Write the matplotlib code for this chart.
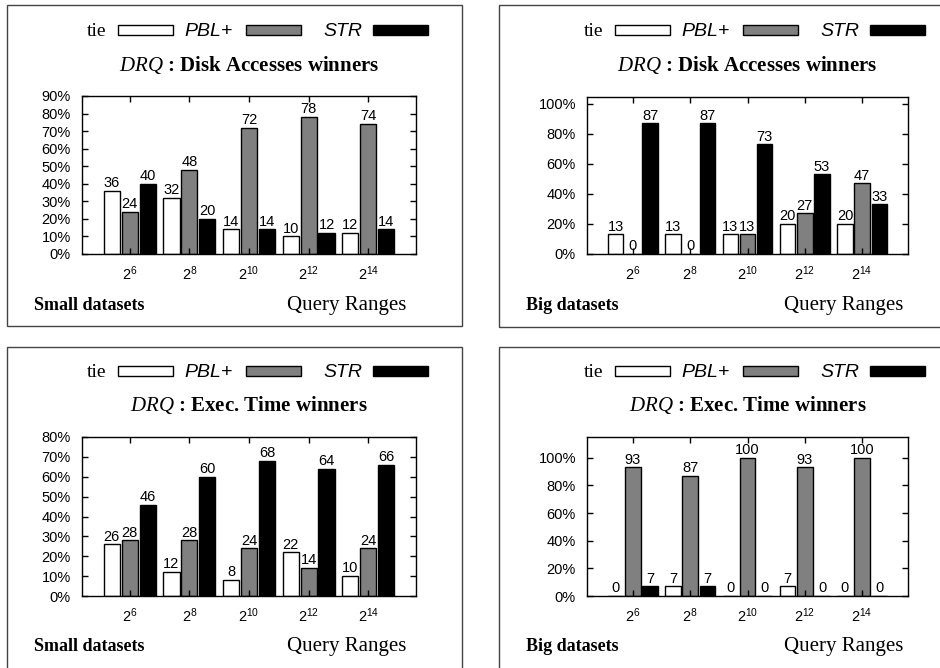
import numpy as np
import matplotlib.pyplot as plt
from matplotlib.patches import Rectangle

plt.rcParams['font.family'] = 'Liberation Sans'
plt.rcParams['mathtext.fontset'] = 'custom'
plt.rcParams['mathtext.rm'] = 'Liberation Sans'
plt.rcParams['mathtext.it'] = 'Liberation Serif:italic'
plt.rcParams['mathtext.default'] = 'rm'

# data
query_ranges = ['$2^{6}$', '$2^{8}$', '$2^{10}$', '$2^{12}$', '$2^{14}$']
series_names = ['tie', 'PBL+', 'STR']
series_colors = ['white', '#808080', 'black']

disk_small_tie = [36, 32, 14, 10, 12]
disk_small_pbl = [24, 48, 72, 78, 74]
disk_small_str = [40, 20, 14, 12, 14]

disk_big_tie = [13, 13, 13, 20, 20]
disk_big_pbl = [0, 0, 13, 27, 47]
disk_big_str = [87, 87, 73, 53, 33]

time_small_tie = [26, 12, 8, 22, 10]
time_small_pbl = [28, 28, 24, 14, 24]
time_small_str = [46, 60, 68, 64, 66]

time_big_tie = [0, 7, 0, 7, 0]
time_big_pbl = [93, 87, 100, 93, 100]
time_big_str = [7, 7, 0, 0, 0]

W, H = 940, 668
fig = plt.figure(figsize=(W / 100, H / 100), dpi=100)


def px(x, y):
    return x / W, 1 - y / H


def draw_key(dx, ybox):
    # gnuplot-like key: label right aligned, then a sample box
    text_right = [106, 233, 362]
    box_left = [118, 246, 373]
    for name, color, tr, bl in zip(series_names, series_colors, text_right, box_left):
        if name == 'tie':
            fam, style = 'Liberation Serif', 'normal'
        else:
            fam, style = 'Liberation Sans', 'italic'
        fig.text(*px(tr + dx, ybox + 6), name, ha='right', va='baseline',
                 family=fam, style=style, fontsize=14)
        x0, y0 = px(bl + dx, ybox + 5)
        fig.add_artist(Rectangle((x0, y0), 55 / W, 10 / H, transform=fig.transFigure,
                                 facecolor=color, edgecolor='black', lw=1))


def panel(box, axrect, dx, dy, title, size_label, tie, pbl, strv, ymax, ystep):
    bx0, by0, bx1, by1 = box
    x0, y0 = px(bx0, by1)
    fig.add_artist(Rectangle((x0, y0), (bx1 - bx0) / W, (by1 - by0) / H,
                             transform=fig.transFigure, fill=False,
                             edgecolor='#444444', lw=1))

    l, t, r, b = axrect
    ax = fig.add_axes([l / W, 1 - b / H, (r - l) / W, (b - t) / H])
    x = np.arange(len(query_ranges))
    offsets = [-0.3, 0.0, 0.3]
    for vals, color, off in zip([tie, pbl, strv], series_colors, offsets):
        ax.bar(x + off, vals, width=0.27, color=color, edgecolor='black', lw=1)
        for xi, v in zip(x, vals):
            ax.annotate(str(v), (xi + off, v), xytext=(0, 0.5), textcoords='offset points',
                        ha='center', va='bottom', fontsize=10.5)
    ax.set_xlim(-0.8, 4.8)
    ax.set_ylim(0, ymax)
    ax.set_xticks(x)
    ax.set_xticklabels(query_ranges, fontsize=10.5)
    yt = np.arange(0, ymax + 0.1, ystep)
    ax.set_yticks(yt)
    ax.set_yticklabels(['%d%%' % v for v in yt], fontsize=10.5)
    ax.tick_params(direction='in', top=True, right=True, length=4, width=1)
    ax.tick_params(axis='y', pad=8)
    ax.tick_params(axis='x', pad=7.5)
    for s in ax.spines.values():
        s.set_linewidth(1)

    draw_key(dx, 30 + dy)
    fig.text(*px((l + r) / 2, 70.5 + dy), r'$\mathit{DRQ}$ : ' + title,
             ha='center', va='baseline', family='Liberation Serif',
             fontweight='bold', fontsize=15)
    fig.text(*px(bx0 + 27, 310 + dy), size_label, ha='left', va='baseline',
             family='Liberation Serif', fontweight='bold', fontsize=13)
    fig.text(*px(r - 10 + (5 if dx else 0), 310 + dy), 'Query Ranges', ha='right',
             va='baseline', family='Liberation Serif', fontsize=15)
    return ax


panel((7, 5, 462, 326), (82, 96, 416, 254), 0, 0, 'Disk Accesses winners',
      'Small datasets', disk_small_tie, disk_small_pbl, disk_small_str, 90, 10)
panel((499, 5, 950, 327), (587, 97, 908, 254), 497, 0, 'Disk Accesses winners',
      'Big datasets', disk_big_tie, disk_big_pbl, disk_big_str, 104.5, 20)
panel((7, 347, 462, 680), (82, 437, 416, 596), 0, 341, 'Exec. Time winners',
      'Small datasets', time_small_tie, time_small_pbl, time_small_str, 80, 10)
panel((499, 347, 950, 680), (587, 437, 908, 596), 497, 341, 'Exec. Time winners',
      'Big datasets', time_big_tie, time_big_pbl, time_big_str, 115, 20)

fig.savefig('out.png', dpi=100)
